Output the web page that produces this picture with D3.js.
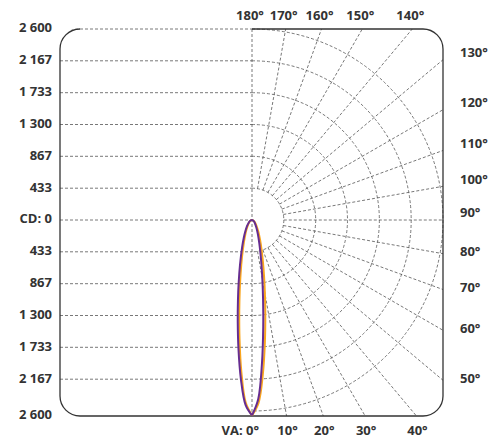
<!DOCTYPE html>
<html>
<head>
<meta charset="utf-8">
<script src="https://cdn.jsdelivr.net/npm/d3@7"></script>
<style>
  html, body { margin: 0; padding: 0; background: #fff; }
  text { font-family: "Open Sans", "DejaVu Sans", sans-serif; font-weight: 700; font-size: 13px; fill: #333; }
</style>
</head>
<body>
<div id="chart"></div>
<script>
// candela rings and their labels
const cdTicks = [433, 867, 1300, 1733, 2167, 2600];
const cdLabels = ["433", "867", "1 300", "1 733", "2 167", "2 600"];
// angle lines (degrees, 0 = straight down)
const angleTicks = [10, 20, 30, 40, 50, 60, 70, 80, 90, 100, 110, 120, 130, 140, 150, 160, 170];

// vertical angles of the measured curve
const vaAngles = [0, 2, 4, 6, 8, 10, 12, 15, 20, 25, 30, 40, 50, 60, 70, 80, 90];
// C-planes (cd)
const c0   = [2660, 2438, 1950, 1462, 1081, 810, 619, 431, 259, 170, 118, 64, 39, 24, 13, 6, 0];
const c180 = [2660, 2518, 2170, 1763, 1395, 1100, 873, 631, 393, 263, 185, 102, 61, 38, 21, 10, 0];
const c90  = [2660, 2497, 2109, 1676, 1300, 1009, 791, 565, 348, 230, 162, 89, 53, 33, 19, 9, 0];
const c270 = [2660, 2484, 2074, 1625, 1246, 959, 747, 530, 323, 214, 150, 82, 49, 30, 17, 8, 0];

const width = 499, height = 439;
const cx = 252, cy = 220;
const frame = { x0: 60, y0: 29, x1: 443, y1: 416, rr: 20 };

const r = d3.scaleLinear().domain([0, 2600]).range([0, 191]);

const svg = d3.select("#chart").append("svg")
  .attr("width", width).attr("height", height);

svg.append("defs").append("clipPath").attr("id", "frame-clip")
  .append("rect")
  .attr("x", frame.x0 - 1).attr("y", frame.y0 - 1)
  .attr("width", frame.x1 - frame.x0 + 2).attr("height", frame.y1 - frame.y0 + 2)
  .attr("rx", frame.rr + 1);

const grid = svg.append("g")
  .attr("clip-path", "url(#frame-clip)")
  .attr("fill", "none")
  .attr("stroke", "#555")
  .attr("stroke-width", 0.8)
  .attr("stroke-dasharray", "3,2");

// left side: straight lines
cdTicks.forEach(v => {
  grid.append("line")
    .attr("x1", frame.x0).attr("x2", cx)
    .attr("y1", cy - r(v)).attr("y2", cy - r(v));
  if (v < 2600) {
    grid.append("line")
      .attr("x1", frame.x0).attr("x2", cx)
      .attr("y1", cy + r(v)).attr("y2", cy + r(v));
  }
});
grid.append("line").attr("x1", frame.x0).attr("x2", cx).attr("y1", cy).attr("y2", cy);
grid.append("line").attr("x1", cx).attr("x2", cx).attr("y1", frame.y0).attr("y2", frame.y1);

// right side: rings
cdTicks.forEach(v => {
  const p = d3.path();
  p.arc(cx, cy, r(v), -Math.PI / 2, Math.PI / 2);
  grid.append("path").attr("d", p.toString());
});

// angle lines, from the first ring out to the frame
function lineEnd(a) {
  const t = a * Math.PI / 180, s = Math.sin(t), c = Math.cos(t);
  const tx = (frame.x1 - cx) / s;
  const ty = c > 1e-9 ? (frame.y1 - cy) / c : c < -1e-9 ? (frame.y0 - cy) / c : Infinity;
  const len = Math.min(tx, ty);
  return { x: cx + len * s, y: cy + len * c, s, c, side: tx <= ty ? "right" : (c > 0 ? "bottom" : "top") };
}

angleTicks.forEach(a => {
  const e = lineEnd(a);
  const r0 = r(cdTicks[0]);
  grid.append("line")
    .attr("x1", cx + r0 * e.s).attr("y1", cy + r0 * e.c)
    .attr("x2", e.x).attr("y2", e.y);
});

// frame, open on the left part of the top edge
const fp = d3.path();
fp.moveTo(cx, frame.y0);
fp.lineTo(frame.x1 - frame.rr, frame.y0);
fp.arcTo(frame.x1, frame.y0, frame.x1, frame.y0 + frame.rr, frame.rr);
fp.lineTo(frame.x1, frame.y1 - frame.rr);
fp.arcTo(frame.x1, frame.y1, frame.x1 - frame.rr, frame.y1, frame.rr);
fp.lineTo(frame.x0 + frame.rr, frame.y1);
fp.arcTo(frame.x0, frame.y1, frame.x0, frame.y1 - frame.rr, frame.rr);
fp.lineTo(frame.x0, frame.y0 + frame.rr);
fp.arcTo(frame.x0, frame.y0, frame.x0 + frame.rr, frame.y0, frame.rr);
svg.append("path").attr("d", fp.toString())
  .attr("fill", "none").attr("stroke", "#333").attr("stroke-width", 1.3);

// curves: left half one plane, right half the opposite plane
const curve = d3.line().curve(d3.curveCatmullRom.alpha(0.5));
function planePoints(left, right) {
  const pts = [];
  vaAngles.forEach((a, i) => {
    const t = a * Math.PI / 180;
    pts.push([cx - r(left[i]) * Math.sin(t), cy + r(left[i]) * Math.cos(t)]);
  });
  for (let i = vaAngles.length - 2; i >= 0; i--) {
    const t = vaAngles[i] * Math.PI / 180;
    pts.push([cx + r(right[i]) * Math.sin(t), cy + r(right[i]) * Math.cos(t)]);
  }
  return pts;
}

svg.append("path").attr("d", curve(planePoints(c270, c90)))
  .attr("fill", "none").attr("stroke", "#f9a51e").attr("stroke-width", 2);
svg.append("path").attr("d", curve(planePoints(c180, c0)))
  .attr("fill", "none").attr("stroke", "#662d91").attr("stroke-width", 2);

// labels
const labels = svg.append("g");
cdTicks.forEach((v, i) => {
  labels.append("text").attr("x", 52).attr("y", cy - r(v))
    .attr("text-anchor", "end").attr("dominant-baseline", "middle").text(cdLabels[i]);
  labels.append("text").attr("x", 52).attr("y", v < 2600 ? cy + r(v) : frame.y1)
    .attr("text-anchor", "end").attr("dominant-baseline", "middle").text(cdLabels[i]);
});
labels.append("text").attr("x", 52).attr("y", cy)
  .attr("text-anchor", "end").attr("dominant-baseline", "middle").text("CD: 0");

labels.append("text").attr("x", cx - 2).attr("y", 20).attr("text-anchor", "middle").text("180°");
labels.append("text").attr("x", cx + 7).attr("y", 435).attr("text-anchor", "end").text("VA: 0°");

angleTicks.forEach(a => {
  const e = lineEnd(a);
  const t = labels.append("text").text(a + "°");
  if (e.side === "bottom") {
    t.attr("x", e.x + 1).attr("y", 435).attr("text-anchor", "middle");
  } else if (e.side === "top") {
    t.attr("x", e.x - 2).attr("y", 20).attr("text-anchor", "middle");
  } else {
    t.attr("x", 460).attr("y", e.y + (a >= 90 ? -6 : -1))
      .attr("text-anchor", "start").attr("dominant-baseline", "middle");
  }
});
</script>
</body>
</html>
